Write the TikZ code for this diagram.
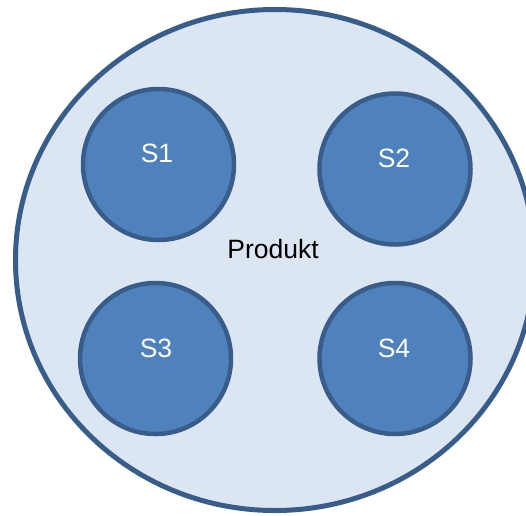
\documentclass[tikz,border=0pt]{standalone}
\usepackage{fontspec}
\setmainfont{Liberation Sans}
\usepackage{tikz}
\usetikzlibrary{shapes,positioning}

\definecolor{rim}{HTML}{385D8A}
\definecolor{pale}{HTML}{DCE6F2}
\definecolor{mid}{HTML}{4F81BD}

\begin{document}
\begin{tikzpicture}[x=1pt, y=-1pt,
	outer/.style={ellipse, draw=rim, fill=pale, line width=5pt, minimum width=519pt, minimum height=501pt, inner sep=0pt},
	sub/.style={circle, draw=rim, fill=mid, line width=4.5pt, minimum size=151pt, inner sep=0pt},
	txt/.style={font=\fontsize{26.5}{31}\selectfont, inner sep=0pt}]
	\useasboundingbox (0, 0) rectangle (526, 515);
	\clip (0, 0) rectangle (526, 515);

	\node[outer]	(produkt) at (275, 260) {};
	\node[txt]	(pname) at (273, 249) {Produkt};

	\node[sub]	(s1) at (158.5, 164.5) {};
	\node[sub]	(s2) at (395, 169) {};
	\node[sub]	(s3) at (155.5, 358.5) {};
	\node[sub]	(s4) at (395, 358.5) {};

	% labels sit a bit above the centres
	\node[txt, white]	(l1) at (157, 153) {S1};
	\node[txt, white]	(l2) at (394, 158) {S2};
	\node[txt, white]	(l3) at (156, 348) {S3};
	\node[txt, white]	(l4) at (394, 348) {S4};
\end{tikzpicture}
\end{document}
